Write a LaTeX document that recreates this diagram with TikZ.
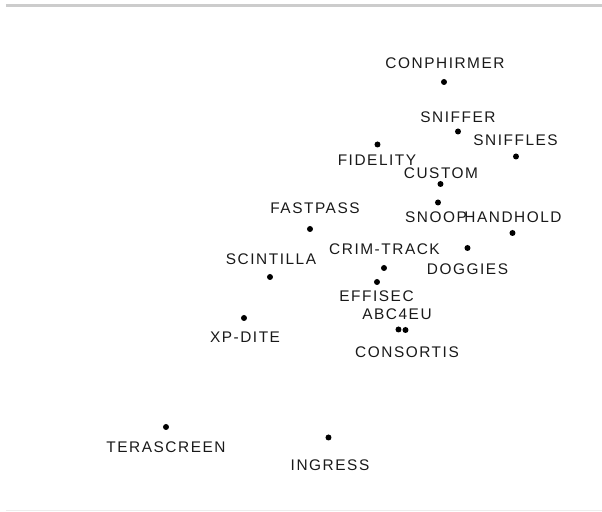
\documentclass[tikz,border=0pt]{standalone}
\usepackage{fontspec}
\newfontfamily\lblfont{Liberation Sans}[LetterSpace=10]
\usetikzlibrary{positioning}
\definecolor{rule}{rgb}{0.80,0.80,0.80}
\definecolor{faintrule}{rgb}{0.93,0.93,0.93}
\tikzset{
  dot/.style={circle,fill=black,inner sep=0pt,minimum size=3pt},
  lbl/.style={inner sep=0pt,text=black!90,font=\lblfont\fontsize{7.7}{9}\selectfont}
}

\begin{document}
\begin{tikzpicture}[x=0.5pt,y=-0.5pt]
\useasboundingbox (0,0) rectangle (602,512);

\coordinate (r1) at (6,5.8);
\coordinate (r2) at (602,5.8);
\coordinate (b1) at (6,510.7);
\coordinate (b2) at (602,510.7);
\draw[rule,line width=1.3pt] (r1) -- (r2);
\draw[faintrule,line width=0.6pt] (b1) -- (b2);

% points
\coordinate (conphirmer) at (444,82);
\coordinate (sniffer) at (458,131.5);
\coordinate (sniffles) at (516,156.5);
\coordinate (fidelity) at (377.5,144.5);
\coordinate (custom) at (440.5,184);
\coordinate (snoop) at (438,202.5);
\coordinate (handhold) at (512.5,233);
\coordinate (doggies) at (467.5,248);
\coordinate (crimtrack) at (384,268);
\coordinate (effisec) at (377,282);
\coordinate (abc4eu) at (398.5,329.5);
\coordinate (consortis) at (405.5,330);
\coordinate (fastpass) at (310,229);
\coordinate (scintilla) at (270,277);
\coordinate (xpdite) at (244,318);
\coordinate (terascreen) at (166,427);
\coordinate (ingress) at (328.5,437.5);

% labels
\node[lbl] (conphirmerlbl) at (445,63) {CONPHIRMER};
\node[lbl] (snifferlbl) at (458,117) {SNIFFER};
\node[lbl] (snifflesl) at (515.5,140) {SNIFFLES};
\node[lbl] (fidelitylbl) at (377,160.5) {FIDELITY};
\node[lbl] (customlbl) at (441,173) {CUSTOM};
\node[lbl] (snooplbl) at (436,217.5) {SNOOP};
\node[lbl] (handholdlbl) at (513,217) {HANDHOLD};
\node[lbl] (doggieslbl) at (467.5,269.5) {DOGGIES};
\node[lbl] (crimtracklbl) at (384.5,249.5) {CRIM-TRACK};
\node[lbl] (effiseclbl) at (376.5,296) {EFFISEC};
\node[lbl] (abc4eulbl) at (397,314.5) {ABC4EU};
\node[lbl] (consortislbl) at (407,352.5) {CONSORTIS};
\node[lbl] (fastpasslbl) at (315,208.5) {FASTPASS};
\node[lbl] (scintillalbl) at (271,259.5) {SCINTILLA};
\node[lbl] (xpditelbl) at (245,337.5) {XP-DITE};
\node[lbl] (terascreenlbl) at (166,447.5) {TERASCREEN};
\node[lbl] (ingresslbl) at (330,465.5) {INGRESS};

\foreach \p in {conphirmer,sniffer,sniffles,fidelity,custom,snoop,handhold,doggies,
  crimtrack,effisec,abc4eu,consortis,fastpass,scintilla,xpdite,terascreen,ingress}
  \node[dot] (\p dot) at (\p) {};
\end{tikzpicture}
\end{document}
